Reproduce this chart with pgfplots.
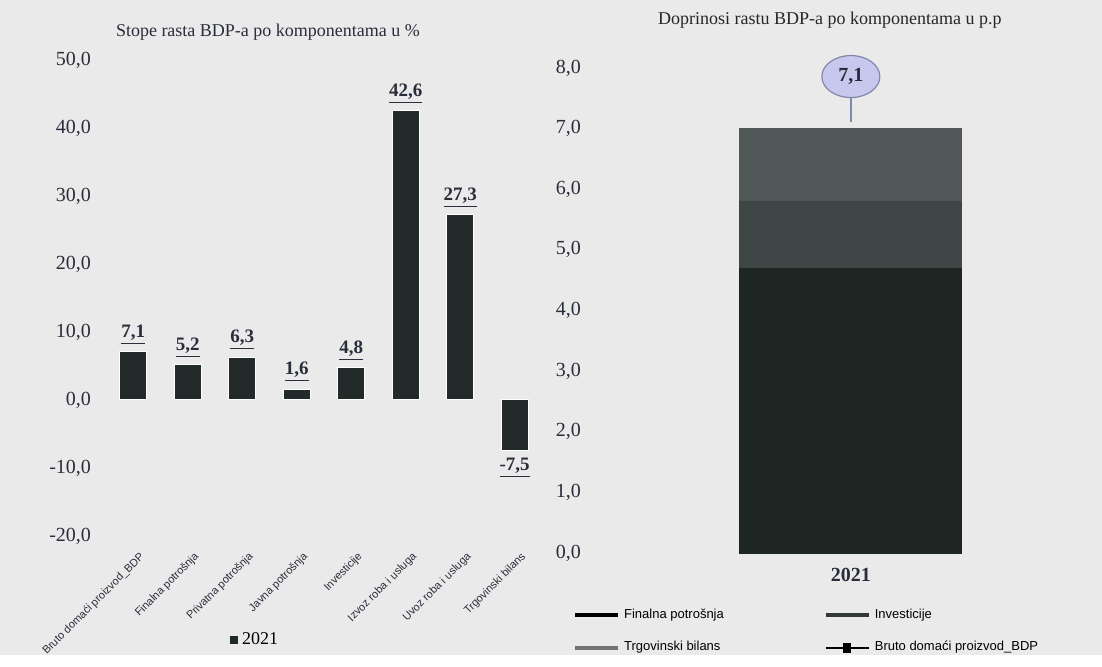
\documentclass[border=0pt]{standalone}
\usepackage{fontspec}
\setmainfont{Liberation Serif}
\newfontfamily\narrowsans{Liberation Sans}
\usepackage{pgfplots}
\pgfplotsset{compat=1.18}
\usetikzlibrary{shapes.geometric}
\definecolor{bg}{HTML}{EAEAEA}
\definecolor{bardark}{HTML}{232B2A}
\definecolor{segA}{HTML}{1E2623}
\definecolor{segB}{HTML}{3F4646}
\definecolor{segC}{HTML}{505757}
\definecolor{txt}{HTML}{2A2D3A}
\definecolor{ellfill}{HTML}{C8C8EE}
\definecolor{elldraw}{HTML}{8088AA}

\begin{document}
\begin{tikzpicture}[x=1pt,y=1pt]
\fill[bg] (0,0) rectangle (551,327.5);
\node[font=\fontsize{9}{10}\selectfont, text=txt] at (134,311.5) {Stope rasta BDP-a po komponentama u \%};
\node[font=\fontsize{9}{10}\selectfont, text=black!85] at (415,317.5) {Doprinosi rastu BDP-a po komponentama u p.p};

% ---------- left chart ----------
\begin{axis}[
 at={(53pt,59.5pt)}, anchor=south west, scale only axis, width=218pt, height=238pt,
 xmin=-0.5, xmax=7.5, ymin=-20, ymax=50,
 ybar, bar width=13.5pt, clip=false,
 axis line style={draw=none}, major tick length=0pt,
 ytick={-20,-10,...,50},
 yticklabel={\pgfmathprintnumber[fixed,fixed zerofill,precision=1,use comma,assume math mode=true]{\tick}},
 yticklabel style={font=\fontsize{10}{11}\selectfont, text=txt, xshift=-4pt},
 xtick=data,
 xticklabels={Bruto domaći proizvod\_BDP,Finalna potrošnja,Privatna potrošnja,Javna potrošnja,Investicije,Izvoz roba i usluga,Uvoz roba i usluga,Trgovinski bilans},
 xticklabel style={font=\narrowsans\fontsize{5.5}{6}\selectfont, text=txt, rotate=45, anchor=north east, yshift=-4pt},
 nodes near coords={\textbf{\underline{\pgfmathprintnumber[fixed,fixed zerofill,precision=1,use comma,assume math mode=true]{\pgfplotspointmeta}}}},
 every node near coord/.append style={font=\fontsize{9.5}{10}\selectfont, text=txt},
 legend style={at={(0.344,-0.2185)}, anchor=center, draw=none, fill=none, font=\fontsize{9}{10}\selectfont},
 legend image code/.code={\fill[bardark] (0pt,-1.8pt) rectangle (3.6pt,1.8pt);},
]
\addplot[fill=bardark, draw=white, line width=0.5pt] coordinates {(0,7.1) (1,5.2) (2,6.3) (3,1.6) (4,4.8) (5,42.6) (6,27.3) (7,-7.5)};
\legend{2021}
\end{axis}

% ---------- right chart ----------
\begin{axis}[
 at={(300pt,51pt)}, anchor=south west, scale only axis, width=251pt, height=242.5pt,
 xmin=-1, xmax=1, ymin=0, ymax=8,
 ybar stacked, bar width=111pt, clip=false,
 axis line style={draw=none}, major tick length=0pt,
 ytick={0,1,...,8},
 yticklabel={\pgfmathprintnumber[fixed,fixed zerofill,precision=1,use comma,assume math mode=true]{\tick}},
 yticklabel style={font=\fontsize{10}{11}\selectfont, text=txt, xshift=-6pt},
 xtick={0}, xticklabels={2021},
 xticklabel style={font=\bfseries\fontsize{10}{11}\selectfont, text=txt, yshift=-4pt},
 legend columns=2,
 legend style={at={(-0.066,-0.098)}, anchor=north west, draw=none, fill=none,
   font=\narrowsans\fontsize{6.5}{7}\selectfont, cells={anchor=west}, row sep=6pt,
   /tikz/every even column/.append style={column sep=48pt}},
]
\addplot[fill=segA, draw=segA, legend image code/.code={\draw[black, line width=2pt] (0pt,0pt) -- (21.5pt,0pt);}] coordinates {(0,4.7)};
\addplot[fill=segB, draw=segB, legend image code/.code={\draw[segB!80!black, line width=2pt] (0pt,0pt) -- (21.5pt,0pt);}] coordinates {(0,1.1)};
\addplot[fill=segC, draw=segC, legend image code/.code={\draw[black!55, line width=2pt] (0pt,0pt) -- (21.5pt,0pt);}] coordinates {(0,1.2)};
\addlegendimage{legend image code/.code={\draw[black, line width=1pt] (0pt,0pt) -- (21.5pt,0pt); \fill[black] (9pt,-2.2pt) rectangle (12.5pt,2.2pt);}}
\legend{Finalna potrošnja,Investicije,Trgovinski bilans,Bruto domaći proizvod\_BDP}
\node[text=white, font=\fontsize{10}{11}\selectfont] at (axis cs:0,2.35) {4,7};
\node[text=white, font=\fontsize{10}{11}\selectfont] at (axis cs:0,5.3) {1,1};
\node[text=white, font=\fontsize{10}{11}\selectfont] at (axis cs:0,6.45) {1,2};
\end{axis}

% ---------- BDP overlay ----------
\begin{axis}[
 at={(300pt,51pt)}, anchor=south west, scale only axis, width=251pt, height=242.5pt,
 xmin=-1, xmax=1, ymin=0, ymax=8, hide axis, clip=false,
]
\addplot[draw=none, mark=none, nodes near coords={},
  every node near coord/.style={inner sep=0pt, minimum size=0pt, anchor=center,
    pin={[pin distance=12pt, pin edge={elldraw, line width=0.8pt}, ellipse, fill=ellfill, draw=elldraw, line width=0.6pt, inner sep=1pt, minimum width=29pt, minimum height=21pt, font=\bfseries\fontsize{10}{11}\selectfont, text=txt]90:{7{,}1}}}]
 coordinates {(0,7.1)};
\end{axis}
\end{tikzpicture}
\end{document}
